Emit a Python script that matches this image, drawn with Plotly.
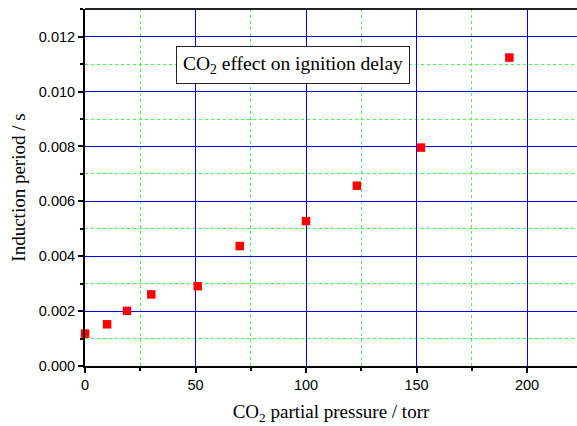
import plotly.graph_objects as go

pressure = [0, 10, 19, 30, 51, 70, 100, 123, 152, 192]
induction = [0.00118, 0.00152, 0.00201, 0.00261, 0.00291, 0.00437, 0.00528, 0.00657, 0.00796, 0.01124]

fig = go.Figure()
fig.add_trace(go.Scatter(
    x=pressure, y=induction, mode="markers",
    marker=dict(symbol="square", size=8.5, color="#ff0000", line=dict(width=0)),
    showlegend=False, cliponaxis=False,
))

fig.add_annotation(
    x=94, y=0.01097, xref="x", yref="y",
    text="CO<sub>2</sub> effect on ignition delay",
    showarrow=False,
    font=dict(family="Liberation Serif", size=19.5, color="black"),
    bgcolor="white", bordercolor="#222", borderwidth=1, borderpad=6,
)

axis_common = dict(
    showline=True, linecolor="black", automargin=False,
    ticks="outside", ticklen=5, tickwidth=1.5, tickcolor="black",
    showgrid=True, gridcolor="#0000ff", gridwidth=1,
    zeroline=False,
    tickfont=dict(family="Liberation Sans", size=14.5, color="black"),
)

fig.update_xaxes(
    **axis_common,
    range=[0, 222.6], tick0=0, dtick=50, linewidth=1.5, mirror=False,
    minor=dict(dtick=25, showgrid=True, gridcolor="#44ff44", griddash="dot",
               gridwidth=1, ticks="outside", ticklen=3, tickcolor="black"),
    title=dict(text="CO<sub>2</sub> partial pressure / torr",
               font=dict(family="Liberation Serif", size=19, color="black"), standoff=13),
)
fig.update_yaxes(
    **axis_common,
    range=[0, 0.01301], tick0=0, dtick=0.002, tickformat=".3f", linewidth=2, mirror=False,
    minor=dict(dtick=0.001, showgrid=True, gridcolor="#44ff44", griddash="dot",
               gridwidth=1, ticks="outside", ticklen=3, tickcolor="black"),
    title=dict(text="Induction period / s",
               font=dict(family="Liberation Serif", size=19, color="black"), standoff=8),
)

# top frame line of the plot area
fig.add_shape(type="line", xref="paper", yref="paper", x0=0, x1=1, y0=1, y1=1,
              line=dict(color="#222", width=2))

fig.update_layout(
    width=577, height=426,
    margin=dict(l=85, r=0, t=9, b=60),
    plot_bgcolor="white", paper_bgcolor="white",
)

fig.write_html(
    "out.html",
    config={"displayModeBar": False},
    post_script="document.body.style.margin='0';document.body.style.overflow='hidden';",
)
